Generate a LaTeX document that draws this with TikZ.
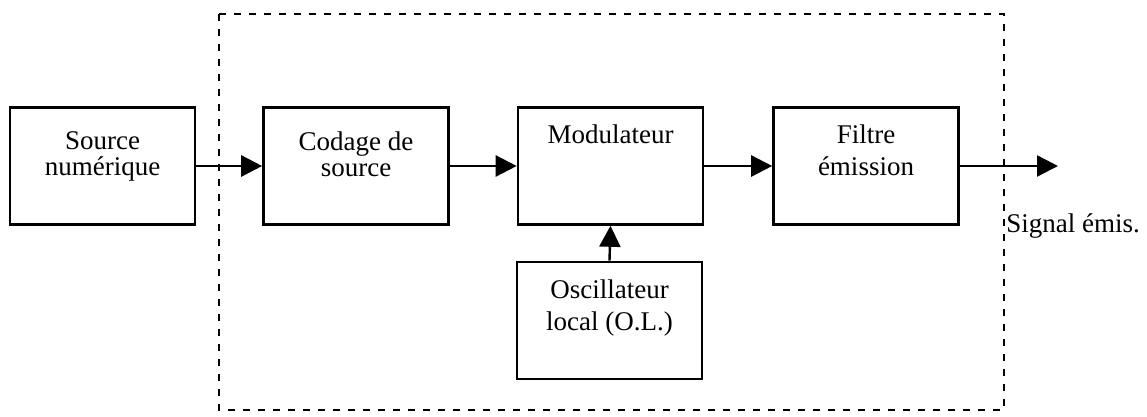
\documentclass[tikz,border=0pt]{standalone}
\usepackage{fontspec}
\setmainfont{Liberation Serif}
\usetikzlibrary{arrows.meta}
\begin{document}
\begin{tikzpicture}[x=0.5pt,y=-0.5pt,
  blockbox/.style={draw,line width=1.3pt,rectangle,inner sep=0pt,
    minimum width=92.5pt,minimum height=58.5pt},
  blocktext/.style={anchor=north,align=center,inner sep=0pt,
    font=\fontsize{13.5}{13}\selectfont},
  flow/.style={line width=1.2pt,-{Triangle[length=10.5pt,width=10.5pt]}},
  frame/.style={line width=1pt,dash pattern=on 3.5pt off 4pt}]
\useasboundingbox (0,0) rectangle (1147,417);
% transmitter frame
\draw[frame] (219,14) rectangle (1004,410);
% blocks
\node[blockbox] (src) at (102.5,166) {};
\node[blockbox] (cod) at (356,166) {};
\node[blockbox] (mod) at (610.5,166) {};
\node[blockbox] (fil) at (866,166) {};
\node[blockbox] (osc) at (609.5,320.5) {};
% labels inside the blocks
\node[blocktext] (srcT) at (102.5,131.5) {Source\\numérique};
\node[blocktext] (codT) at (356,131.5) {Codage de\\source};
\node[blocktext] (modT) at (610.5,124.5) {Modulateur};
\node[blocktext] (filT) at (866,124.5) {Filtre\\[3pt]émission};
\node[blocktext] (oscT) at (609.5,279.5) {Oscillateur\\[3pt]local (O.L.)};
% signal path
\coordinate (out) at (1058,166);
\draw[flow] (src.east) -- (cod.west);
\draw[flow] (cod.east) -- (mod.west);
\draw[flow] (mod.east) -- (fil.west);
\draw[flow] (fil.east) -- (out);
\draw[flow] (osc.north) -- (mod.south);
\node[anchor=base west,inner sep=0pt,font=\fontsize{13.5}{13}\selectfont] (sig) at (1006,233) {Signal émis.};
\end{tikzpicture}
\end{document}
